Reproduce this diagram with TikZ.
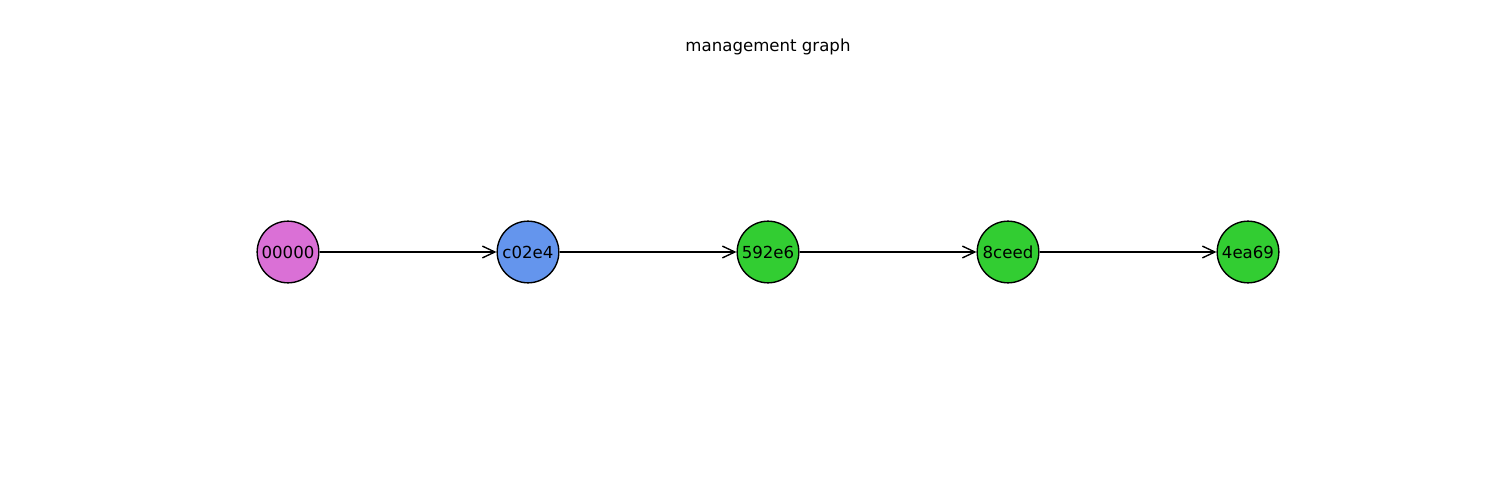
\documentclass[tikz,border=0pt]{standalone}
\usepackage{fontspec}
\setmainfont{DejaVu Sans}
\usetikzlibrary{arrows.meta}
\definecolor{orchid}{HTML}{DA70D6}
\definecolor{cornflower}{HTML}{6495ED}
\definecolor{limegreen}{HTML}{32CD32}
\begin{document}
\begin{tikzpicture}[x=0.0254cm,y=0.0254cm,font=\fontsize{12}{14}\selectfont,
  commit/.style={circle,draw,line width=1pt,minimum size=44.6pt,inner sep=0pt},
  link/.style={line width=1pt,-{Straight Barb[length=9pt,width=8.5pt]}}]
\useasboundingbox (0,0) rectangle (1500,500);

\node (title) at (768,453) {management graph};

\node[commit,fill=orchid] (c0) at (288,248) {00000};
\node[commit,fill=cornflower] (c1) at (528,248) {c02e4};
\node[commit,fill=limegreen] (c2) at (768,248) {592e6};
\node[commit,fill=limegreen] (c3) at (1008,248) {8ceed};
\node[commit,fill=limegreen] (c4) at (1248,248) {4ea69};

\draw[link] (c0) -- (c1);
\draw[link] (c1) -- (c2);
\draw[link] (c2) -- (c3);
\draw[link] (c3) -- (c4);

\end{tikzpicture}
\end{document}
